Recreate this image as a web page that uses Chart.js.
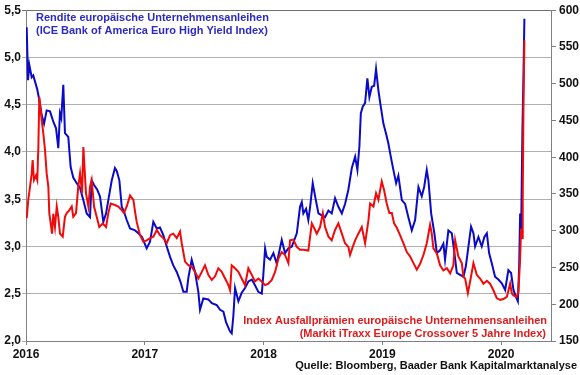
<!DOCTYPE html>
<html>
<head>
<meta charset="utf-8">
<script src="https://cdn.jsdelivr.net/npm/chart.js"></script>
<style>
  body { margin: 0; background: #fff; }
</style>
</head>
<body>
<canvas id="myChart" width="580" height="375"></canvas>
<script>
// x axis: years
const years = [2016, 2017, 2018, 2019, 2020];

// Rendite (left axis, %), time as decimal year
const yieldT = [2016.006, 2016.017, 2016.028, 2016.048, 2016.061, 2016.084, 2016.095, 2016.112, 2016.132, 2016.152,
  2016.174, 2016.202, 2016.230, 2016.253, 2016.272, 2016.286, 2016.297, 2016.314, 2016.328, 2016.356,
  2016.376, 2016.398, 2016.427, 2016.455, 2016.483, 2016.511, 2016.539, 2016.553, 2016.573, 2016.600,
  2016.623, 2016.651, 2016.674, 2016.693, 2016.722, 2016.749, 2016.764, 2016.786, 2016.806, 2016.825,
  2016.848, 2016.876, 2016.918, 2016.946, 2016.977, 2017.016, 2017.044, 2017.072, 2017.101, 2017.128,
  2017.156, 2017.185, 2017.213, 2017.240, 2017.269, 2017.297, 2017.325, 2017.353, 2017.367, 2017.395,
  2017.423, 2017.451, 2017.465, 2017.493, 2017.535, 2017.564, 2017.606, 2017.634, 2017.662, 2017.684,
  2017.718, 2017.732, 2017.746, 2017.760, 2017.788, 2017.816, 2017.844, 2017.872, 2017.901, 2017.928,
  2017.956, 2017.985, 2017.998, 2018.013, 2018.027, 2018.055, 2018.083, 2018.111, 2018.153, 2018.181,
  2018.209, 2018.238, 2018.280, 2018.307, 2018.322, 2018.335, 2018.358, 2018.377, 2018.392, 2018.414,
  2018.434, 2018.462, 2018.490, 2018.518, 2018.546, 2018.574, 2018.602, 2018.630, 2018.659, 2018.686,
  2018.714, 2018.743, 2018.771, 2018.790, 2018.807, 2018.819, 2018.835, 2018.855, 2018.874, 2018.891,
  2018.911, 2018.931, 2018.947, 2018.967, 2018.987, 2019.009, 2019.032, 2019.051, 2019.071, 2019.093,
  2019.116, 2019.135, 2019.164, 2019.192, 2019.219, 2019.248, 2019.276, 2019.304, 2019.332, 2019.352,
  2019.374, 2019.388, 2019.411, 2019.438, 2019.459, 2019.486, 2019.514, 2019.528, 2019.556, 2019.585,
  2019.607, 2019.627, 2019.655, 2019.683, 2019.703, 2019.725, 2019.747, 2019.767, 2019.781, 2019.809,
  2019.837, 2019.859, 2019.880, 2019.899, 2019.922, 2019.949, 2019.977, 2020.006, 2020.034, 2020.061,
  2020.084, 2020.104, 2020.124, 2020.141, 2020.152, 2020.160, 2020.168, 2020.179, 2020.188, 2020.196];
const yieldV = [5.32, 4.76, 4.92, 4.79, 4.81, 4.71, 4.66, 4.55, 4.39, 4.30,
  4.44, 4.43, 4.32, 4.25, 4.04, 4.41, 4.36, 4.71, 4.20, 4.16,
  3.84, 3.73, 3.67, 3.62, 3.49, 3.35, 3.31, 3.70, 3.65, 3.60,
  3.53, 3.26, 3.35, 3.49, 3.70, 3.83, 3.80, 3.70, 3.42, 3.37,
  3.28, 3.19, 3.17, 3.14, 3.10, 2.98, 3.05, 3.26, 3.19, 3.20,
  3.12, 3.00, 2.89, 2.80, 2.73, 2.64, 2.52, 2.52, 2.67, 2.86,
  2.73, 2.52, 2.33, 2.45, 2.44, 2.40, 2.38, 2.33, 2.31, 2.20,
  2.10, 2.08, 2.27, 2.56, 2.42, 2.51, 2.56, 2.63, 2.65, 2.59,
  2.52, 2.50, 2.70, 2.98, 2.89, 2.86, 2.93, 2.82, 3.07, 2.93,
  2.98, 3.00, 3.14, 3.42, 3.47, 3.35, 3.40, 3.28, 3.42, 3.67,
  3.53, 3.35, 3.33, 3.31, 3.38, 3.35, 3.51, 3.42, 3.35, 3.45,
  3.60, 3.83, 3.95, 3.81, 4.06, 4.41, 4.48, 4.52, 4.78, 4.58,
  4.69, 4.70, 4.88, 4.65, 4.48, 4.30, 4.19, 4.09, 3.95, 3.81,
  3.67, 3.75, 3.49, 3.45, 3.31, 3.17, 3.28, 3.63, 3.53, 3.63,
  3.81, 3.70, 3.35, 3.14, 2.93, 2.96, 3.03, 2.86, 3.17, 3.14,
  2.93, 2.72, 2.70, 2.68, 2.79, 3.00, 3.21, 3.14, 3.00, 3.10,
  3.00, 3.10, 3.14, 2.93, 2.82, 2.68, 2.65, 2.61, 2.54, 2.75,
  2.72, 2.54, 2.47, 2.42, 2.79, 3.35, 3.10, 4.20, 4.80, 5.41];

// iTraxx Crossover (right axis, bp)
const itraxxT = [2016.006, 2016.019, 2016.034, 2016.048, 2016.056, 2016.067, 2016.084, 2016.095, 2016.104, 2016.112,
  2016.124, 2016.132, 2016.146, 2016.160, 2016.174, 2016.188, 2016.196, 2016.208, 2016.219, 2016.230,
  2016.244, 2016.259, 2016.272, 2016.286, 2016.309, 2016.328, 2016.343, 2016.365, 2016.385, 2016.398,
  2016.421, 2016.440, 2016.455, 2016.472, 2016.483, 2016.494, 2016.505, 2016.525, 2016.539, 2016.553,
  2016.573, 2016.595, 2016.617, 2016.646, 2016.674, 2016.693, 2016.713, 2016.749, 2016.777, 2016.806,
  2016.825, 2016.848, 2016.876, 2016.904, 2016.918, 2016.932, 2016.960, 2016.988, 2017.016, 2017.044,
  2017.072, 2017.101, 2017.128, 2017.156, 2017.185, 2017.213, 2017.240, 2017.269, 2017.297, 2017.311,
  2017.339, 2017.367, 2017.395, 2017.423, 2017.451, 2017.480, 2017.507, 2017.535, 2017.564, 2017.592,
  2017.619, 2017.648, 2017.676, 2017.704, 2017.718, 2017.732, 2017.760, 2017.788, 2017.816, 2017.844,
  2017.872, 2017.901, 2017.928, 2017.956, 2017.985, 2018.013, 2018.040, 2018.069, 2018.097, 2018.125,
  2018.153, 2018.181, 2018.209, 2018.223, 2018.251, 2018.280, 2018.307, 2018.335, 2018.377, 2018.406,
  2018.434, 2018.448, 2018.476, 2018.499, 2018.518, 2018.546, 2018.574, 2018.602, 2018.630, 2018.659,
  2018.686, 2018.714, 2018.728, 2018.751, 2018.771, 2018.798, 2018.827, 2018.855, 2018.883, 2018.897,
  2018.925, 2018.947, 2018.967, 2018.981, 2018.995, 2019.015, 2019.037, 2019.059, 2019.080, 2019.099,
  2019.122, 2019.149, 2019.177, 2019.206, 2019.234, 2019.262, 2019.290, 2019.318, 2019.346, 2019.374,
  2019.402, 2019.416, 2019.430, 2019.459, 2019.486, 2019.514, 2019.543, 2019.571, 2019.598, 2019.613,
  2019.640, 2019.669, 2019.683, 2019.697, 2019.720, 2019.739, 2019.767, 2019.795, 2019.823, 2019.851,
  2019.880, 2019.907, 2019.935, 2019.964, 2019.992, 2020.019, 2020.048, 2020.076, 2020.090, 2020.104,
  2020.132, 2020.146, 2020.160, 2020.168, 2020.177, 2020.182, 2020.188, 2020.196];
const itraxxV = [317, 342, 360, 378, 396, 369, 375, 369, 414, 482,
  464, 450, 432, 410, 378, 360, 324, 310, 296, 323,
  305, 333, 319, 296, 292, 319, 324, 328, 333, 319,
  324, 360, 378, 351, 414, 382, 351, 333, 360, 369,
  333, 319, 305, 310, 305, 324, 337, 335, 333, 328,
  324, 333, 348, 342, 326, 312, 294, 285, 287, 290,
  292, 301, 294, 290, 283, 294, 296, 290, 299, 283,
  258, 253, 251, 244, 235, 244, 253, 240, 233, 238,
  249, 244, 235, 226, 219, 253, 249, 244, 235, 226,
  249, 240, 231, 235, 231, 226, 228, 233, 244, 262,
  271, 267, 256, 287, 288, 278, 274, 274, 273, 310,
  301, 296, 305, 324, 305, 292, 287, 301, 310, 296,
  283, 278, 267, 278, 287, 296, 305, 283, 314, 337,
  333, 351, 342, 355, 367, 355, 337, 324, 324, 310,
  304, 294, 283, 271, 265, 256, 247, 255, 267, 283,
  308, 296, 276, 269, 253, 246, 249, 242, 253, 287,
  265, 256, 237, 235, 215, 231, 256, 240, 235, 228,
  232, 228, 219, 208, 206, 207, 210, 228, 215, 212,
  210, 217, 262, 303, 290, 342, 464, 559];

const yieldLabel1 = 'Rendite europäische Unternehmensanleihen';
const yieldLabel2 = '(ICE Bank of America Euro High Yield Index)';
const itraxxLabel1 = 'Index Ausfallprämien europäische Unternehmensanleihen';
const itraxxLabel2 = '(Markit iTraxx Europe Crossover 5 Jahre Index)';
const sourceText = 'Quelle: Bloomberg, Baader Bank Kapitalmarktanalyse';

const FONT = "'Liberation Sans', Arial, sans-serif";
const BLUE = '#0a0ac8';
const RED = '#f00a0a';

const textPlugin = {
  id: 'texts',
  afterDraw(chart) {
    const ctx = chart.ctx;
    const a = chart.chartArea;
    ctx.save();
    ctx.textBaseline = 'middle';
    ctx.font = 'bold 11px ' + FONT;
    ctx.fillStyle = '#2b2bc4';
    ctx.textAlign = 'left';
    ctx.fillText(yieldLabel1, a.left + 10, 18);
    ctx.fillText(yieldLabel2, a.left + 10, 31);
    ctx.fillStyle = '#e01b1b';
    ctx.textAlign = 'right';
    ctx.fillText(itraxxLabel1, a.right - 4, 321);
    ctx.fillText(itraxxLabel2, a.right - 5, 334);
    ctx.fillStyle = '#111';
    ctx.font = 'bold 11px ' + FONT;
    ctx.fillText(sourceText, 577, 366);
    ctx.restore();
  }
};

function toPoints(t, v) {
  return t.map((x, i) => ({x: x, y: v[i]}));
}

const data = {
  datasets: [{
    label: itraxxLabel1,
    data: toPoints(itraxxT, itraxxV),
    yAxisID: 'y1',
    borderColor: RED,
    borderWidth: 2,
    pointRadius: 0,
    tension: 0
  }, {
    label: yieldLabel1,
    data: toPoints(yieldT, yieldV),
    yAxisID: 'y',
    borderColor: BLUE,
    borderWidth: 2,
    pointRadius: 0,
    tension: 0
  }]
};

const config = {
  type: 'line',
  data: data,
  options: {
    responsive: false,
    animation: false,
    devicePixelRatio: 1,
    layout: { padding: { top: 10, left: 0, right: 0, bottom: 0 } },
    plugins: { legend: { display: false }, tooltip: { enabled: false } },
    scales: {
      x: {
        type: 'linear',
        min: 2016,
        max: 2020.42,
        afterBuildTicks: (s) => { s.ticks = years.map(v => ({value: v})); },
        afterFit: (s) => { s.height = 34; },
        grid: { drawOnChartArea: false, tickLength: 4, color: '#808080' },
        border: { color: '#808080' },
        ticks: {
          color: '#111',
          padding: 2,
          maxRotation: 0,
          font: { family: FONT, size: 12, weight: 'bold' },
          callback: (v) => String(v)
        }
      },
      y: {
        position: 'left',
        min: 2,
        max: 5.5,
        afterBuildTicks: (s) => {
          const t = [];
          for (let v = 2; v <= 5.5001; v += 0.5) t.push({value: Math.round(v * 10) / 10});
          s.ticks = t;
        },
        afterFit: (s) => { s.width = 26; },
        grid: {
          tickLength: 4,
          color: (c) => c.tick && c.tick.value === 5.5 ? '#707070' : '#b0b0b0'
        },
        border: { color: '#808080' },
        ticks: {
          color: '#111',
          padding: 1,
          font: { family: FONT, size: 12, weight: 'bold' },
          callback: (v) => v.toFixed(1).replace('.', ',')
        }
      },
      y1: {
        position: 'right',
        min: 150,
        max: 600,
        afterBuildTicks: (s) => {
          const t = [];
          for (let v = 150; v <= 600; v += 50) t.push({value: v});
          s.ticks = t;
        },
        afterFit: (s) => { s.width = 29; },
        grid: { drawOnChartArea: false, tickLength: 5, color: '#808080' },
        border: { color: '#808080' },
        ticks: {
          color: '#111',
          padding: 3,
          font: { family: FONT, size: 12, weight: 'bold' }
        }
      }
    }
  },
  plugins: [textPlugin]
};

var myChart = new Chart(document.getElementById('myChart'), config);
</script>
</body>
</html>
